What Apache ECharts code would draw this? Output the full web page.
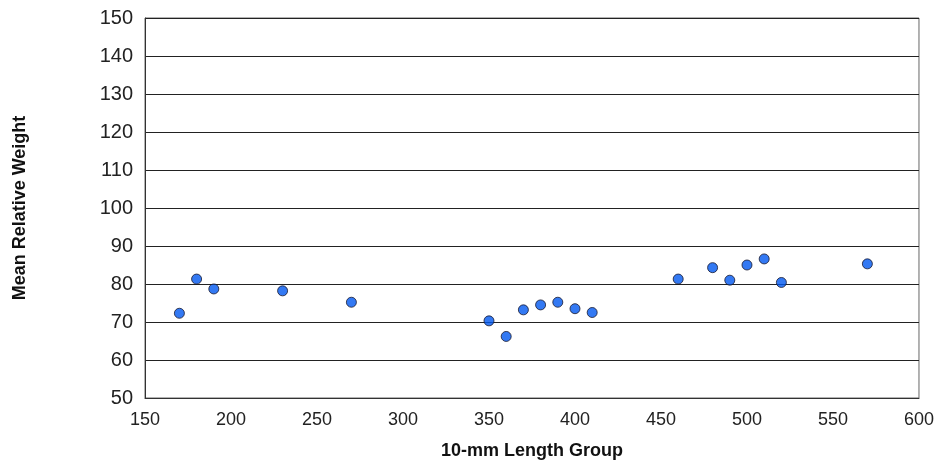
<html>
<head>
    <meta charset='utf-8' />
    <script src="https://cdn.jsdelivr.net/npm/echarts@6/dist/echarts.min.js"></script>
    <title>Mean Relative Weight</title>
    <style>
        body { margin: 0; background: #fff; }
        #chart { width: 937px; height: 466px; }
    </style>
</head>
<body>
    <div id="chart"></div>
    <script type="text/javascript">
        // 10-mm length groups and their mean relative weight
        var lengthGroup = [170, 180, 190, 230, 270, 350, 360, 370, 380, 390, 400, 410, 460, 480, 490, 500, 510, 520, 570];
        var meanWeight = [72.3, 81.3, 78.7, 78.2, 75.2, 70.3, 66.2, 73.2, 74.5, 75.2, 73.5, 72.5, 81.3, 84.3, 81.0, 85.0, 86.6, 80.4, 85.3];

        var points = [];
        for (var i = 0; i < lengthGroup.length; i++) {
            points.push([lengthGroup[i], meanWeight[i]]);
        }

        var chart = echarts.init(document.getElementById('chart'));
        var font = 'Liberation Sans, Arial, sans-serif';
        chart.setOption({
            animation: false,
            grid: {
                left: 145,
                right: 18,
                top: 18,
                bottom: 68,
                show: true,
                borderColor: '#666',
                borderWidth: 1
            },
            xAxis: {
                type: 'value',
                min: 150,
                max: 600,
                interval: 50,
                name: '10-mm Length Group',
                nameLocation: 'middle',
                nameGap: 44,
                nameTextStyle: { fontFamily: font, fontSize: 18, fontWeight: 'bold', color: '#111' },
                axisLine: { lineStyle: { color: '#333', width: 1 } },
                axisTick: { show: false },
                splitLine: { show: false },
                axisLabel: { fontFamily: font, fontSize: 18, color: '#222', margin: 13 }
            },
            yAxis: {
                type: 'value',
                min: 50,
                max: 150,
                interval: 10,
                name: 'Mean Relative Weight',
                nameLocation: 'middle',
                nameGap: 116,
                nameTextStyle: { fontFamily: font, fontSize: 18, fontWeight: 'bold', color: '#111' },
                axisLine: { show: true, lineStyle: { color: '#333', width: 1 } },
                axisTick: { show: false },
                splitLine: { lineStyle: { color: '#222', width: 1 } },
                axisLabel: { fontFamily: font, fontSize: 20, color: '#222', margin: 12 }
            },
            series: [{
                type: 'scatter',
                data: points,
                symbol: 'circle',
                symbolSize: 10,
                itemStyle: { color: '#0058f0', borderColor: '#1a1a2e', borderWidth: 1 }
            }]
        });
    </script>
</body>
</html>
